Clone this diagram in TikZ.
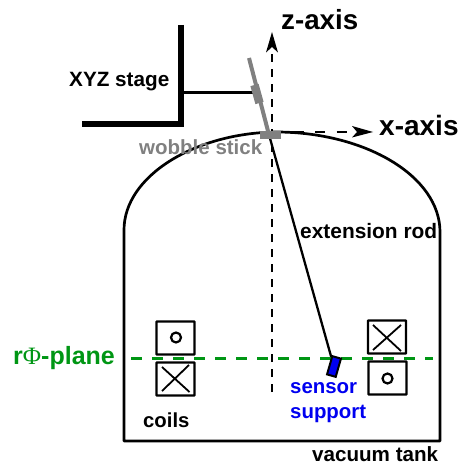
\documentclass[tikz,border=0pt]{standalone}
\usepackage{fontspec}
\setmainfont{Liberation Sans}
\newfontfamily\phifont{Liberation Serif}
\usetikzlibrary{arrows.meta}
\definecolor{planegreen}{RGB}{0,150,20}
\definecolor{stickgray}{RGB}{128,128,128}
\definecolor{sensorblue}{RGB}{0,0,240}
\tikzset{
  lbl/.style={font=\bfseries\fontsize{#1}{#1}\selectfont,inner sep=0pt,anchor=base west},
  coilbox/.style={draw=black,line width=2.4pt,minimum width=38pt,minimum height=33pt,inner sep=0pt,rounded corners=0.5pt},
  axishead/.style={fill=black,draw=none},
}
\begin{document}
\begin{tikzpicture}[x=1pt,y=-1pt]
\useasboundingbox (0,0) rectangle (459,465);
% named points
\coordinate (stageTop) at (181,25);
\coordinate (stageCorner) at (181,124);
\coordinate (stageEnd) at (82,124);
\coordinate (armStart) at (184,92.5);
\coordinate (stickTop) at (249,58);
\coordinate (pivot) at (268.5,133);
\coordinate (sleeveA) at (254.5,85);
\coordinate (sleeveB) at (259.5,103);
\coordinate (rodEnd) at (331.5,358);
\coordinate (zBase) at (272,392);
\coordinate (zEnd) at (272,50);
\coordinate (zTip) at (272,32);
\coordinate (xBase) at (272,132);
\coordinate (xEnd) at (355,132);
\coordinate (xTip) at (373,132);
\coordinate (planeL) at (131,358.5);
\coordinate (planeR) at (433,358.5);
% vacuum tank
\draw[line width=2.7pt,line join=round] (124,230) .. controls (124,176) and (195,133) .. (276,132)
  .. controls (365,132) and (440,176) .. (440,232) -- (440,441) -- (124,441) -- cycle;
% stage
\draw[line width=6pt,line join=miter] (stageTop) -- (stageCorner) -- (stageEnd);
\draw[line width=2.2pt] (armStart) -- (256,92.5);
% axes
\draw[line width=2.6pt,dash pattern=on 8pt off 7pt] (zBase) -- (zEnd);
\fill[axishead] (zTip) -- (278,52.5) -- (272,47) -- (266,52.5) -- cycle;
\draw[line width=2.4pt,dash pattern=on 10pt off 11.5pt] (xBase) -- (xEnd);
\fill[axishead] (xTip) -- (352,126) -- (357,132) -- (352,137.5) -- cycle;
% rod and stick
\draw[line width=2.3pt] (pivot) -- (rodEnd);
\draw[stickgray,line width=4pt] (stickTop) -- (pivot);
\draw[stickgray,line width=8.5pt] (sleeveA) -- (sleeveB);
\fill[stickgray] (260,131) rectangle (281,139);
% coils
\node[coilbox] (coilLT) at (175.5,338) {};
\node[coilbox] (coilLB) at (175.5,379) {};
\node[coilbox] (coilRT) at (387,337) {};
\node[coilbox] (coilRB) at (387.5,378) {};
\draw[line width=2.2pt] (176,337.5) circle (5pt);
\draw[line width=2.2pt] (387.5,378.5) circle (5pt);
\draw[line width=1.8pt] (162,367) -- (189.5,392) (189,365) -- (162,391);
\draw[line width=1.8pt] (373,325) -- (401,351) (401,325) -- (373,350);
% plane
\draw[planegreen,line width=2.7pt,dash pattern=on 10.5pt off 10.5pt] (planeL) -- (planeR);
% sensor
\node[draw=black,fill=sensorblue,line width=2pt,minimum width=9pt,minimum height=19pt,inner sep=0pt,rotate=-16] (sensor) at (334,366.5) {};
% labels
\node[lbl=20.7] (lblStage) at (69,87) {XYZ stage};
\node[lbl=27.7] (lblZ) at (281,30) {z-axis};
\node[lbl=28] (lblX) at (379,136) {x-axis};
\node[lbl=20.5,text=stickgray] (lblWobble) at (139,154) {wobble stick};
\node[lbl=20.9] (lblRod) at (300,238) {extension rod};
\node[lbl=25,text=planegreen] (lblPlane) at (13,364) {r{\phifont\mdseries Φ}-plane};
\node[lbl=20.3] (lblCoils) at (143,427) {coils};
\node[lbl=20.4,text=sensorblue] (lblSensor) at (290,393) {sensor};
\node[lbl=20.4,text=sensorblue] (lblSupport) at (290,418) {support};
\node[lbl=20.6] (lblTank) at (312,461) {vacuum tank};
\end{tikzpicture}
\end{document}
